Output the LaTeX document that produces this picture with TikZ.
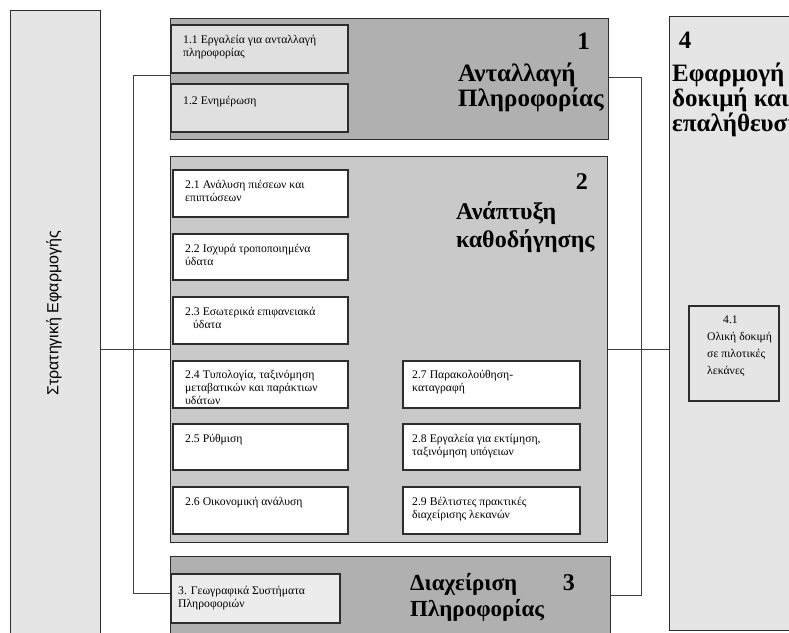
\documentclass[tikz,border=0pt]{standalone}
\usepackage{fontspec}
\setmainfont{Liberation Serif}
\newfontfamily\grsans{Liberation Sans}
\definecolor{lightp}{RGB}{229,229,229}
\definecolor{midp}{RGB}{201,201,201}
\definecolor{darkp}{RGB}{176,176,176}
\definecolor{boxg}{RGB}{224,224,224}
\definecolor{edgec}{RGB}{45,45,45}
\begin{document}
\begin{tikzpicture}[x=1pt,y=-1pt,
  panel/.style={draw=edgec, line width=1.3pt, anchor=north west, inner sep=0pt},
  subbox/.style={draw=edgec, line width=1.6pt, anchor=north west, inner sep=0pt},
  small/.style={anchor=base west, inner sep=0pt, align=left, font=\fontsize{11.7}{13}\selectfont},
  title/.style={anchor=base west, inner sep=0pt, font=\fontsize{24}{27}\selectfont\bfseries},
  bigtitle/.style={title, font=\fontsize{25}{27}\selectfont\bfseries},
  link/.style={draw=black!75, line width=1pt}]
\useasboundingbox (0,0) rectangle (789,632);
\clip (0,0) rectangle (789,632);
% panels
\node[panel, fill=lightp, minimum width=90, minimum height=640] (L) at (10,10) {};
\node[panel, fill=darkp, minimum width=438, minimum height=121] (P1) at (170,18) {};
\node[panel, fill=midp, minimum width=437, minimum height=386] (P2) at (170,156) {};
\node[panel, fill=darkp, minimum width=440, minimum height=90] (P3) at (170,556) {};
\node[panel, fill=lightp, minimum width=200, minimum height=614] (P4) at (669,16) {};
% sub boxes
\node[subbox, fill=boxg, minimum width=177, minimum height=48] (b11) at (170,24) {};
\node[subbox, fill=boxg, minimum width=177, minimum height=48] (b12) at (170,83) {};
\node[subbox, fill=white, minimum width=175, minimum height=47] (b21) at (172,169) {};
\node[subbox, fill=white, minimum width=175, minimum height=46] (b22) at (172,233) {};
\node[subbox, fill=white, minimum width=175, minimum height=47] (b23) at (172,296) {};
\node[subbox, fill=white, minimum width=175, minimum height=47] (b24) at (172,360) {};
\node[subbox, fill=white, minimum width=175, minimum height=46] (b25) at (172,423) {};
\node[subbox, fill=white, minimum width=175, minimum height=47] (b26) at (172,486) {};
\node[subbox, fill=white, minimum width=177, minimum height=47] (b27) at (402,360) {};
\node[subbox, fill=white, minimum width=177, minimum height=46] (b28) at (402,423) {};
\node[subbox, fill=white, minimum width=177, minimum height=47] (b29) at (402,486) {};
\node[subbox, fill=boxg!60!white, minimum width=169, minimum height=49] (b3) at (170,573) {};
\node[subbox, fill=lightp, minimum width=90, minimum height=95] (b41) at (688,305) {};
% box texts (base anchor = baseline of the last line)
\node[small] (t11) at ([shift={(13,32)}]b11.north west) {1.1 Εργαλεία για ανταλλαγή\\πληροφορίας};
\node[small] (t12) at ([shift={(13,21)}]b12.north west) {1.2 Ενημέρωση};
\node[small] (t21) at ([shift={(13,32)}]b21.north west) {2.1 Ανάλυση πιέσεων και\\επιπτώσεων};
\node[small] (t22) at ([shift={(13,32)}]b22.north west) {2.2 Ισχυρά τροποποιημένα\\ύδατα};
\node[small] (t23) at ([shift={(13,32)}]b23.north west) {2.3 Εσωτερικά επιφανειακά\\\hspace*{8pt}ύδατα};
\node[small] (t24) at ([shift={(13,44)}]b24.north west) {2.4 Τυπολογία, ταξινόμηση\\μεταβατικών και παράκτιων\\υδάτων};
\node[small] (t25) at ([shift={(13,19)}]b25.north west) {2.5 Ρύθμιση};
\node[small] (t26) at ([shift={(13,19)}]b26.north west) {2.6 Οικονομική ανάλυση};
\node[small] (t27) at ([shift={(10,31)}]b27.north west) {2.7 Παρακολούθηση-\\καταγραφή};
\node[small] (t28) at ([shift={(10,32)}]b28.north west) {2.8 Εργαλεία για εκτίμηση,\\ταξινόμηση υπόγειων};
\node[small] (t29) at ([shift={(10,32)}]b29.north west) {2.9 Βέλτιστες πρακτικές\\διαχείρισης λεκανών};
\node[small] (t3) at ([shift={(8,34)}]b3.north west) {3. Γεωγραφικά Συστήματα\\Πληροφοριών};
\node[small, font=\fontsize{11.7}{17}\selectfont] (t41) at ([shift={(19,69)}]b41.north west) {\hspace*{16pt}4.1\\Ολική δοκιμή\\σε πιλοτικές\\λεκάνες};
% titles
\node[bigtitle, anchor=base east] (n1) at (590,49) {1};
\node[bigtitle] (h1a) at (458,81) {Ανταλλαγή};
\node[bigtitle] (h1b) at (458,106) {Πληροφορίας};
\node[title, anchor=base east] (n2) at (588,189) {2};
\node[title] (h2a) at (456,219) {Ανάπτυξη};
\node[title] (h2b) at (456,247) {καθοδήγησης};
\node[title, font=\fontsize{23}{27}\selectfont\bfseries] (h3a) at (410,590) {Διαχείριση};
\node[title, font=\fontsize{23}{27}\selectfont\bfseries] (h3b) at (410,616) {Πληροφορίας};
\node[title, anchor=base east] (n3) at (575,590) {3};
\node[bigtitle, anchor=base] (n4) at (685,48) {4};
\node[bigtitle] (h4a) at (672,81) {Εφαρμογή};
\node[bigtitle] (h4b) at (672,106) {δοκιμή και};
\node[bigtitle] (h4c) at (672,131) {επαλήθευση};
\node[rotate=90, inner sep=0pt, font=\grsans\fontsize{16}{18}\selectfont] (tl) at (54,313) {Στρατηγική Εφαρμογής};
% connectors
\coordinate (j1) at (133,75);
\coordinate (j2) at (133,593);
\draw[link] (j1 -| P1.west) -- (j1) -- (j2) -- (j2 -| b3.west);
\draw[link] (L.east |- P2.west) -- (P2.west);
\coordinate (k1) at (641,77);
\coordinate (k2) at (641,595);
\draw[link] (k1 -| P1.east) -- (k1) -- (k2) -- (k2 -| P3.east);
\draw[link] (P2.east) -- (P2.east -| P4.west);
\end{tikzpicture}
\end{document}
